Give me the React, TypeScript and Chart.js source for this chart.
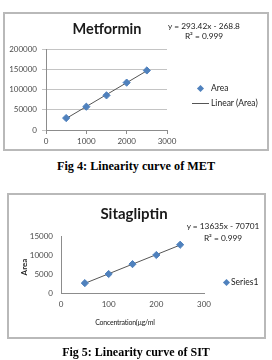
import React, { useEffect, useRef } from "react";
import { Chart, registerables } from "chart.js";

Chart.register(...registerables);

// Metformin calibration: concentration vs peak area
const metConc = [500, 1000, 1500, 2000, 2500];
const metArea = [29500, 57500, 85500, 117000, 147000];
const metXTicks = [0, 1000, 2000, 3000];
const metYTicks = [0, 50000, 100000, 150000, 200000];

// Sitagliptin calibration: concentration (µg/ml) vs peak area
const sitConc = [50, 100, 150, 200, 250];
const sitArea = [2600, 5000, 7600, 10000, 12700];
const sitXTicks = [0, 100, 200, 300];
const sitYTicks = [0, 5000, 10000, 15000];

const MARKER = "#4F81BD";
const TICK_FONT = { family: "Lato", size: 8 };

// Least-squares trend line spanning the measured concentrations
function trendLine(xs: number[], ys: number[]) {
  const n = xs.length;
  const mx = xs.reduce((a, b) => a + b, 0) / n;
  const my = ys.reduce((a, b) => a + b, 0) / n;
  let sxy = 0;
  let sxx = 0;
  for (let i = 0; i < n; i++) {
    sxy += (xs[i] - mx) * (ys[i] - my);
    sxx += (xs[i] - mx) * (xs[i] - mx);
  }
  const slope = sxy / sxx;
  const icpt = my - slope * mx;
  return [xs[0], xs[n - 1]].map((x) => ({ x, y: icpt + slope * x }));
}

type PlotProps = {
  left: number;
  top: number;
  width: number;
  height: number;
  xs: number[];
  ys: number[];
  xTicks: number[];
  yTicks: number[];
  pad: { top: number; right: number };
  yWidth: number;
  xHeight: number;
  gridLines: boolean;
  tickMarks: boolean;
};

function Plot(p: PlotProps) {
  const ref = useRef<HTMLCanvasElement>(null);
  useEffect(() => {
    const points = p.xs.map((x, i) => ({ x, y: p.ys[i] }));
    const xStep = p.xTicks[1] - p.xTicks[0];
    const yStep = p.yTicks[1] - p.yTicks[0];
    const chart = new Chart(ref.current!, {
      type: "scatter",
      data: {
        datasets: [
          {
            label: "Area",
            data: points,
            pointStyle: "rectRot",
            pointRadius: 3.6,
            backgroundColor: MARKER,
            borderColor: MARKER,
            borderWidth: 1,
            order: 0,
          },
          {
            label: "Linear (Area)",
            data: trendLine(p.xs, p.ys),
            showLine: true,
            pointRadius: 0,
            borderColor: "#555555",
            borderWidth: 1,
            order: 1,
          },
        ],
      },
      options: {
        animation: false,
        responsive: false,
        devicePixelRatio: 1,
        layout: { padding: { top: p.pad.top, right: p.pad.right, left: 0, bottom: 0 } },
        plugins: { legend: { display: false }, tooltip: { enabled: false }, title: { display: false } },
        scales: {
          x: {
            type: "linear",
            min: p.xTicks[0],
            max: p.xTicks[p.xTicks.length - 1],
            ticks: {
              stepSize: xStep,
              callback: (v: any) => String(v),
              font: TICK_FONT,
              color: "#4a4a4a",
              padding: p.tickMarks ? 3 : 7,
              maxRotation: 0,
            },
            grid: {
              display: p.tickMarks,
              drawOnChartArea: false,
              drawTicks: p.tickMarks,
              tickLength: 4,
              color: "#8c8c8c",
            },
            border: { display: true, color: "#8c8c8c" },
            afterFit: (s: any) => {
              s.height = p.xHeight;
            },
          },
          y: {
            type: "linear",
            min: p.yTicks[0],
            max: p.yTicks[p.yTicks.length - 1],
            ticks: {
              stepSize: yStep,
              callback: (v: any) => String(v),
              font: TICK_FONT,
              color: "#4a4a4a",
              padding: p.tickMarks ? 5 : 8,
            },
            grid: {
              display: p.gridLines || p.tickMarks,
              drawOnChartArea: p.gridLines,
              drawTicks: p.tickMarks,
              tickLength: 4,
              color: "#c4c4c4",
            },
            border: { display: true, color: "#8c8c8c" },
            afterFit: (s: any) => {
              s.width = p.yWidth;
            },
          },
        },
      },
    } as any);
    return () => chart.destroy();
  }, []);
  return (
    <canvas
      ref={ref}
      width={p.width}
      height={p.height}
      style={{ position: "absolute", left: p.left, top: p.top, width: p.width, height: p.height }}
    />
  );
}

function Text(props: {
  cx: number;
  cy: number;
  size: number;
  bold?: boolean;
  family?: string;
  color?: string;
  rotate?: number;
  spacing?: number;
  children: React.ReactNode;
}) {
  return (
    <div
      style={{
        position: "absolute",
        left: props.cx,
        top: props.cy,
        transform: `translate(-50%, -50%)${props.rotate ? ` rotate(${props.rotate}deg)` : ""}`,
        whiteSpace: "nowrap",
        lineHeight: 1,
        fontSize: props.size,
        fontWeight: props.bold ? 700 : 400,
        fontFamily: props.family || "Lato",
        letterSpacing: props.spacing || 0,
        color: props.color || "#1a1a1a",
      }}
    >
      {props.children}
    </div>
  );
}

function LeftText(props: { x: number; cy: number; size: number; children: React.ReactNode }) {
  return (
    <div
      style={{
        position: "absolute",
        left: props.x,
        top: props.cy,
        transform: "translateY(-50%)",
        whiteSpace: "nowrap",
        lineHeight: 1,
        fontSize: props.size,
        fontFamily: "Lato",
        color: "#1a1a1a",
      }}
    >
      {props.children}
    </div>
  );
}

function Diamond({ cx, cy }: { cx: number; cy: number }) {
  return (
    <div
      style={{
        position: "absolute",
        left: cx - 2.5,
        top: cy - 2.5,
        width: 5,
        height: 5,
        background: MARKER,
        transform: "rotate(45deg)",
      }}
    />
  );
}

function Frame({ left, top, width, height }: { left: number; top: number; width: number; height: number }) {
  return (
    <div
      style={{
        position: "absolute",
        left,
        top,
        width,
        height,
        boxSizing: "border-box",
        border: "2px solid #b9b9b9",
      }}
    />
  );
}

export default function App() {
  return (
    <div
      style={{
        position: "absolute",
        left: 0,
        top: 0,
        width: 272,
        height: 360,
        background: "#ffffff",
        overflow: "hidden",
      }}
    >
      {/* Metformin panel */}
      <Frame left={3} top={12} width={266} height={139} />
      <Plot
        left={4}
        top={14}
        width={263}
        height={136}
        xs={metConc}
        ys={metArea}
        xTicks={metXTicks}
        yTicks={metYTicks}
        pad={{ top: 35, right: 100 }}
        yWidth={42}
        xHeight={20}
        gridLines={true}
        tickMarks={true}
      />
      <Text cx={107} cy={29} size={14.5} bold>
        Metformin
      </Text>
      <Text cx={204} cy={26} size={8.3}>
        y = 293.42x - 268.8
      </Text>
      <Text cx={204} cy={36} size={8.3}>
        R² = 0.999
      </Text>
      <Diamond cx={200} cy={88} />
      <LeftText x={211} cy={88} size={8.5}>
        Area
      </LeftText>
      <div
        style={{ position: "absolute", left: 192, top: 103, width: 17, height: 1, background: "#555555" }}
      />
      <LeftText x={211} cy={103} size={8.5}>
        Linear (Area)
      </LeftText>

      <Text cx={136} cy={166} size={12.2} bold family="'Liberation Serif', serif" color="#000">
        Fig 4: Linearity curve of MET
      </Text>

      {/* Sitagliptin panel */}
      <Frame left={7} top={193} width={259} height={146} />
      <Plot
        left={8}
        top={194}
        width={256}
        height={143}
        xs={sitConc}
        ys={sitArea}
        xTicks={sitXTicks}
        yTicks={sitYTicks}
        pad={{ top: 42, right: 60 }}
        yWidth={53}
        xHeight={44}
        gridLines={false}
        tickMarks={false}
      />
      <Text cx={134} cy={213} size={15} bold>
        Sitagliptin
      </Text>
      <Text cx={223} cy={226} size={8.3}>
        y = 13635x - 70701
      </Text>
      <Text cx={223} cy={238} size={8.3}>
        R² = 0.999
      </Text>
      <Text cx={24} cy={267} size={8} bold rotate={-90}>
        Area
      </Text>
      <Text cx={125} cy={322} size={7} spacing={-0.25}>
        Concentration(µg/ml
      </Text>
      <Diamond cx={226} cy={282} />
      <LeftText x={231} cy={282} size={8.5}>
        Series1
      </LeftText>

      <Text cx={136} cy={352} size={12} bold family="'Liberation Serif', serif" color="#000">
        Fig 5: Linearity curve of SIT
      </Text>
    </div>
  );
}
